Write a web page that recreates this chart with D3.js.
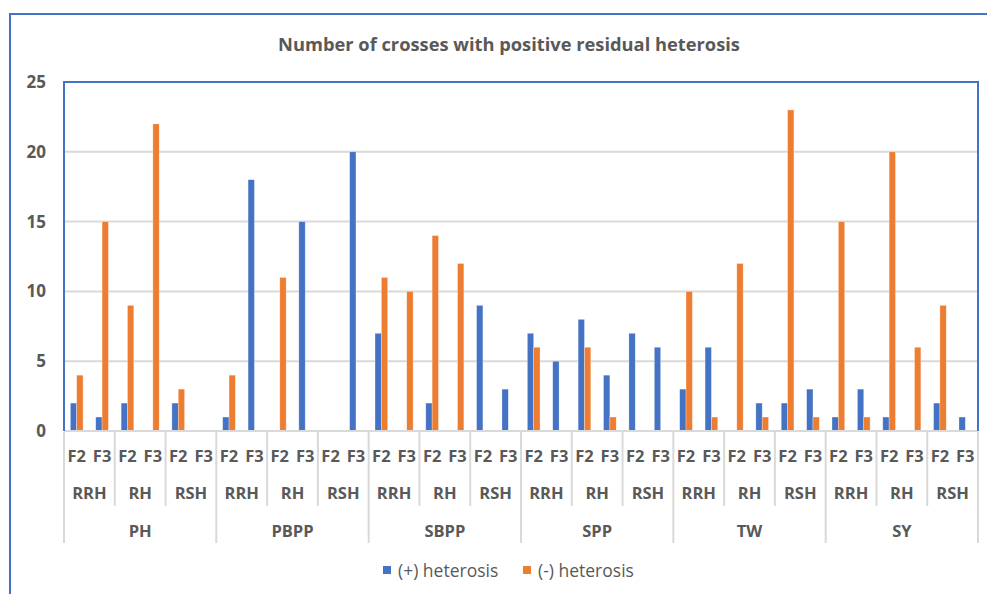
<!DOCTYPE html>
<html lang="en">
<head>
<meta charset="utf-8">
<script src="https://d3js.org/d3.v7.min.js"></script>
<style>
  body { margin: 0; background: #fff; }
  text { font-family: "Open Sans", sans-serif; fill: #595959; }
</style>
</head>
<body>
<script>
// categories
const traits = ["PH", "PBPP", "SBPP", "SPP", "TW", "SY"];
const types = ["RRH", "RH", "RSH"];
const gens = ["F2", "F3"];
const seriesNames = ["(+) heterosis", "(-) heterosis"];

// values, in order trait > type > generation
const posHet = [2, 1, 2, 0, 2, 0,
                1, 18, 0, 15, 0, 20,
                7, 0, 2, 0, 9, 3,
                7, 5, 8, 4, 7, 6,
                3, 6, 0, 2, 2, 3,
                1, 3, 1, 0, 2, 1];
const negHet = [4, 15, 9, 22, 3, 0,
                4, 0, 11, 0, 0, 0,
                11, 10, 14, 12, 0, 0,
                6, 0, 6, 1, 0, 0,
                10, 1, 12, 1, 23, 1,
                15, 1, 20, 6, 9, 0];
const yTicks = [0, 5, 10, 15, 20, 25];

const colors = ["#4472C4", "#ED7D31"];
const W = 987, H = 594;
const pLeft = 64, pRight = 978, pTop = 82, pBottom = 431;

const leaves = [];
traits.forEach(t => types.forEach(ty => gens.forEach(g => {
  leaves.push({ key: t + "|" + ty + "|" + g, trait: t, type: ty, gen: g });
})));
leaves.forEach((d, i) => { d.vals = [posHet[i], negHet[i]]; });

const svg = d3.select("body").append("svg")
  .attr("width", W).attr("height", H);

// outer frame
svg.append("rect")
  .attr("x", 10).attr("y", 14)
  .attr("width", 1000).attr("height", 600)
  .attr("fill", "none").attr("stroke", "#4472C4").attr("stroke-width", 2);

svg.append("text")
  .attr("x", 509).attr("y", 51)
  .attr("text-anchor", "middle")
  .attr("font-size", 18.3).attr("font-weight", "bold")
  .text("Number of crosses with positive residual heterosis");

const x0 = d3.scaleBand()
  .domain(leaves.map(d => d.key))
  .range([pLeft, pRight])
  .paddingInner(0.5).paddingOuter(0.25);
const x1 = d3.scaleBand().domain([0, 1]).range([0, x0.bandwidth()]);
const y = d3.scaleLinear().domain([0, 25]).range([pBottom, pTop]);

// grid
svg.append("g")
  .selectAll("line")
  .data(yTicks.filter(v => v > 0 && v < 25))
  .join("line")
  .attr("x1", pLeft).attr("x2", pRight)
  .attr("y1", d => y(d)).attr("y2", d => y(d))
  .attr("stroke", "#d9d9d9").attr("stroke-width", 2);

// y labels
const yAxis = svg.append("g")
  .attr("transform", `translate(${pLeft},0)`)
  .call(d3.axisLeft(y).tickValues(yTicks).tickSize(0).tickPadding(18));
yAxis.select(".domain").remove();
yAxis.selectAll("text")
  .attr("font-size", 17).attr("font-weight", "bold")
  .style("font-family", "'Open Sans', sans-serif").attr("fill", "#595959");

// bars
svg.append("g")
  .selectAll("g")
  .data(leaves)
  .join("g")
  .attr("transform", d => `translate(${x0(d.key)},0)`)
  .selectAll("rect")
  .data(d => d.vals.map((v, i) => ({ v, i })))
  .join("rect")
  .attr("x", d => x1(d.i))
  .attr("width", x1.bandwidth())
  .attr("y", d => y(d.v))
  .attr("height", d => y(0) - y(d.v))
  .attr("fill", d => colors[d.i])
  .attr("stroke", "#fff").attr("stroke-width", 0.6).attr("stroke-opacity", 0.5);

// baseline and plot border
svg.append("line")
  .attr("x1", pLeft).attr("x2", pRight)
  .attr("y1", pBottom).attr("y2", pBottom)
  .attr("stroke", "#d9d9d9").attr("stroke-width", 2);
svg.append("path")
  .attr("d", `M${pLeft},${pBottom}V${pTop}H${pRight}V${pBottom}`)
  .attr("fill", "none").attr("stroke", "#4472C4").attr("stroke-width", 2);

// hierarchical x labels
const step = x0.step();
const xl = svg.append("g");
xl.selectAll(".gen")
  .data(leaves)
  .join("text")
  .attr("x", d => x0(d.key) + x0.bandwidth() / 2)
  .attr("y", 462)
  .attr("text-anchor", "middle")
  .attr("font-size", 16.5).attr("font-weight", "bold")
  .text(d => d.gen);

const typeGroups = [];
traits.forEach(t => types.forEach(ty => typeGroups.push({ trait: t, type: ty })));
xl.selectAll(".type")
  .data(typeGroups)
  .join("text")
  .attr("x", (d, i) => pLeft + step * (i * 2 + 1))
  .attr("y", 499)
  .attr("text-anchor", "middle")
  .attr("font-size", 16.5).attr("font-weight", "bold")
  .text(d => d.type);

xl.selectAll(".trait")
  .data(traits)
  .join("text")
  .attr("x", (d, i) => pLeft + step * (i * 6 + 3))
  .attr("y", 537)
  .attr("text-anchor", "middle")
  .attr("font-size", 16.5).attr("font-weight", "bold")
  .text(d => d);

// separators
xl.selectAll(".sep")
  .data(d3.range(typeGroups.length + 1))
  .join("line")
  .attr("x1", i => pLeft + step * i * 2).attr("x2", i => pLeft + step * i * 2)
  .attr("y1", pBottom + 1)
  .attr("y2", i => i % 3 === 0 ? 543 : 506)
  .attr("stroke", "#d9d9d9").attr("stroke-width", 2);

// legend
const legendX = [383, 523];
const lg = svg.append("g");
seriesNames.forEach((name, i) => {
  lg.append("rect")
    .attr("x", legendX[i]).attr("y", 566)
    .attr("width", 8).attr("height", 8)
    .attr("fill", colors[i]);
  lg.append("text")
    .attr("x", legendX[i] + 15).attr("y", 577)
    .attr("font-size", 17.5)
    .text(name);
});
</script>
</body>
</html>
